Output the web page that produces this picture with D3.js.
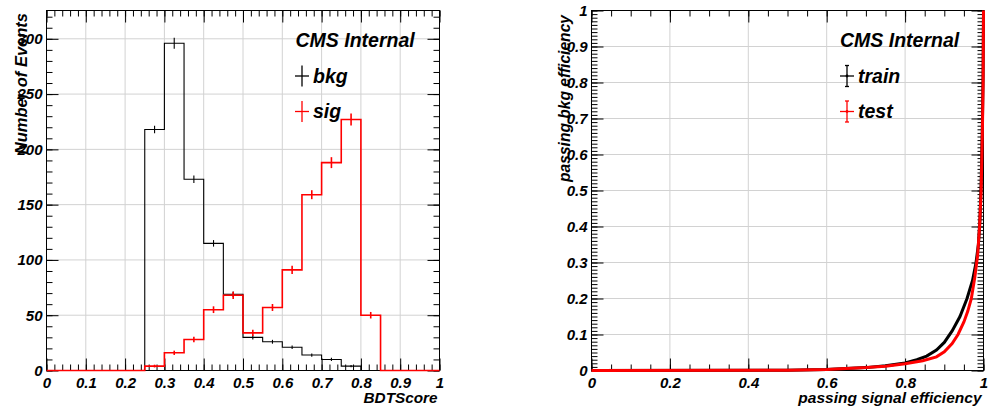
<!DOCTYPE html>
<html><head><meta charset="utf-8">
<script src="https://cdn.jsdelivr.net/npm/d3@7"></script>
<style>
body{margin:0;background:#fff}
svg text{font-family:"Liberation Sans",Arial,Helvetica,sans-serif;font-weight:bold;font-style:italic;fill:#000}
</style></head><body>
<svg id="c" width="992" height="413"></svg>
<script>
// ---------- data ----------
const binEdges = [0,0.05,0.1,0.15,0.2,0.25,0.3,0.35,0.4,0.45,0.5,0.55,0.6,0.65,0.7,0.75,0.8,0.85,0.9,0.95,1.0];
const bkgCounts = [0,0,0,0,0,218,296,173,115,69,30,26,21,14,10,4,0,0,0,0];
const bkgErrors = [0,0,0,0,0,3,4.5,3,2.5,2,1.4,1.3,1.2,1,1,0.6,0,0,0,0];
const sigCounts = [0,0,0,0,0,4,16,28,55,68,34,57,91,159,188,227,50,0,0,0];
const sigErrors = [0,0,0,0,0,0.8,1.5,2,2.6,2.8,2.4,2.7,3.3,3.6,4.5,5,2.5,0,0,0];

const rocTrainSig = [0,0.5,0.6,0.7,0.75,0.8,0.83,0.855,0.88,0.9,0.92,0.94,0.958,0.972,0.981,0.987,0.991,0.994,0.997,0.999,1];
const rocTrainBkg = [0,0.0005,0.003,0.008,0.013,0.021,0.03,0.04,0.057,0.078,0.11,0.15,0.2,0.25,0.3,0.35,0.42,0.52,0.67,0.82,1];
const rocTestSig  = [0,0.5,0.6,0.7,0.75,0.8,0.845,0.88,0.9,0.92,0.935,0.95,0.96,0.969,0.978,0.985,0.99,0.994,0.997,0.999,1];
const rocTestBkg  = [0,0.0005,0.003,0.008,0.012,0.019,0.027,0.038,0.052,0.075,0.1,0.135,0.165,0.2,0.26,0.32,0.4,0.5,0.65,0.8,1];

const histXTicks = [0,0.1,0.2,0.3,0.4,0.5,0.6,0.7,0.8,0.9,1];
const histXTickLabels = ["0","0.1","0.2","0.3","0.4","0.5","0.6","0.7","0.8","0.9","1"];
const histYTicks = [0,50,100,150,200,250,300];
const histYTickLabels = ["0","50","100","150","200","250","300"];
const rocXTicks = [0,0.2,0.4,0.6,0.8,1];
const rocXTickLabels = ["0","0.2","0.4","0.6","0.8","1"];
const rocYTicks = [0,0.1,0.2,0.3,0.4,0.5,0.6,0.7,0.8,0.9,1];
const rocYTickLabels = ["0","0.1","0.2","0.3","0.4","0.5","0.6","0.7","0.8","0.9","1"];
const histYMax = 325.6;

// ---------- drawing ----------
const svg = d3.select("#c");
const TOP = 10.5, BOT = 370.5;

function panel(o) {
  const g = svg.append("g");
  const x = d3.scaleLinear().domain(o.xDomain).range([o.x0, o.x1]);
  const y = d3.scaleLinear().domain(o.yDomain).range([BOT, TOP]);
  // grid
  g.append("g").selectAll("line").data(o.xTicks).join("line")
    .attr("x1", d => x(d)).attr("x2", d => x(d)).attr("y1", TOP).attr("y2", BOT)
    .attr("stroke", "#d2d2d2").attr("stroke-width", 1);
  g.append("g").selectAll("line").data(o.yTicks).join("line")
    .attr("y1", d => y(d)).attr("y2", d => y(d)).attr("x1", o.x0).attr("x2", o.x1)
    .attr("stroke", "#d2d2d2").attr("stroke-width", 1);

  const xMinor = x.ticks(o.xMinorN), yMinor = y.ticks(o.yMinorN);
  const fmtX = d => o.xLabels[o.xTicks.indexOf(d)];
  const fmtY = d => o.yLabels[o.yTicks.indexOf(d)];
  const style = sel => { sel.select(".domain").remove(); sel.selectAll("line").attr("stroke", "#000"); };

  g.append("g").attr("transform", `translate(0,${BOT})`)
    .call(d3.axisBottom(x).tickValues(o.xTicks).tickSize(-12).tickSizeOuter(0).tickPadding(6.5).tickFormat(fmtX))
    .call(style).selectAll("text").attr("font-size", 15).attr("font-family", null);
  g.append("g").attr("transform", `translate(0,${BOT})`)
    .call(d3.axisBottom(x).tickValues(xMinor).tickSize(-6).tickSizeOuter(0).tickFormat("")).call(style);
  g.append("g").attr("transform", `translate(0,${TOP})`)
    .call(d3.axisTop(x).tickValues(o.xTicks).tickSize(-12).tickSizeOuter(0).tickFormat("")).call(style);
  g.append("g").attr("transform", `translate(0,${TOP})`)
    .call(d3.axisTop(x).tickValues(xMinor).tickSize(-6).tickSizeOuter(0).tickFormat("")).call(style);

  g.append("g").attr("transform", `translate(${o.x0},0)`)
    .call(d3.axisLeft(y).tickValues(o.yTicks).tickSize(-12).tickSizeOuter(0).tickPadding(4).tickFormat(fmtY))
    .call(style).selectAll("text").attr("font-size", 15).attr("font-family", null);
  g.append("g").attr("transform", `translate(${o.x0},0)`)
    .call(d3.axisLeft(y).tickValues(yMinor).tickSize(-6).tickSizeOuter(0).tickFormat("")).call(style);
  g.append("g").attr("transform", `translate(${o.x1},0)`)
    .call(d3.axisRight(y).tickValues(o.yTicks).tickSize(-12).tickSizeOuter(0).tickFormat("")).call(style);
  g.append("g").attr("transform", `translate(${o.x1},0)`)
    .call(d3.axisRight(y).tickValues(yMinor).tickSize(-6).tickSizeOuter(0).tickFormat("")).call(style);

  // frame
  g.append("rect").attr("x", o.x0).attr("y", TOP).attr("width", o.x1 - o.x0).attr("height", BOT - TOP)
    .attr("fill", "none").attr("stroke", "#000").attr("stroke-width", 1);

  // titles
  g.append("text").attr("x", o.x1 - 2).attr("y", 403).attr("text-anchor", "end")
    .attr("font-size", o.xTitleSize).text(o.xTitle);
  g.append("text").attr("transform", `translate(${o.yTitleX},${o.yTitleTop}) rotate(-90)`)
    .attr("text-anchor", "end").attr("font-size", o.yTitleSize).text(o.yTitle);
  return {g, x, y};
}

// ---- left: histogram ----
const L = panel({x0: 46.5, x1: 439.5, xDomain: [0, 1], yDomain: [0, histYMax],
  xTicks: histXTicks, xLabels: histXTickLabels, yTicks: histYTicks, yLabels: histYTickLabels,
  xMinorN: 50, yMinorN: 33, xTitle: "BDTScore", xTitleSize: 15.3,
  yTitle: "Number of Events", yTitleX: 26.5, yTitleTop: 13, yTitleSize: 16.5});

function drawHist(p, counts, errs, color, w) {
  const pts = counts.map((c, i) => [binEdges[i], c]);
  pts.push([binEdges[binEdges.length - 1], counts[counts.length - 1]]);
  const line = d3.line().x(d => p.x(d[0])).y(d => p.y(d[1])).curve(d3.curveStepAfter);
  p.g.append("path").attr("d", line(pts)).attr("fill", "none").attr("stroke", color).attr("stroke-width", w);
  const eb = counts.map((c, i) => ({xc: (binEdges[i] + binEdges[i + 1]) / 2, c, e: errs[i]})).filter(d => d.c > 0);
  p.g.append("g").selectAll("line").data(eb).join("line")
    .attr("x1", d => p.x(d.xc)).attr("x2", d => p.x(d.xc))
    .attr("y1", d => p.y(d.c - d.e) + 0.5).attr("y2", d => p.y(d.c + d.e) - 0.5)
    .attr("stroke", color).attr("stroke-width", w);
}
drawHist(L, bkgCounts, bkgErrors, "#000", 1.1);
drawHist(L, sigCounts, sigErrors, "#ff0000", 1.6);

// legend left
L.g.append("text").attr("x", 295.5).attr("y", 47).attr("font-size", 19.5).text("CMS Internal");
function crossMarker(g, cx, cy, color, caps) {
  g.append("line").attr("x1", cx - 7).attr("x2", cx + 7).attr("y1", cy).attr("y2", cy).attr("stroke", color).attr("stroke-width", 1.3);
  g.append("line").attr("x1", cx).attr("x2", cx).attr("y1", cy - 10.5).attr("y2", cy + 10.5).attr("stroke", color).attr("stroke-width", 1.3);
  if (caps) {
    [cy - 10.5, cy + 10.5].forEach(yy => g.append("line").attr("x1", cx - 2).attr("x2", cx + 2).attr("y1", yy).attr("y2", yy).attr("stroke", color).attr("stroke-width", 1.3));
    g.append("circle").attr("cx", cx).attr("cy", cy).attr("r", 1.4).attr("fill", color);
  }
}
crossMarker(L.g, 302, 76, "#000", false);
L.g.append("text").attr("x", 313).attr("y", 82.5).attr("font-size", 19.5).text("bkg");
crossMarker(L.g, 302, 111.5, "#ff0000", false);
L.g.append("text").attr("x", 313).attr("y", 118).attr("font-size", 19.5).text("sig");

// ---- right: ROC ----
const R = panel({x0: 591.5, x1: 983.5, xDomain: [0, 1], yDomain: [0, 1],
  xTicks: rocXTicks, xLabels: rocXTickLabels, yTicks: rocYTicks, yLabels: rocYTickLabels,
  xMinorN: 20, yMinorN: 80, xTitle: "passing signal efficiency", xTitleSize: 15.5,
  yTitle: "passing bkg efficiency", yTitleX: 569.5, yTitleTop: 15, yTitleSize: 15.6});

const roc = d3.line().x(d => R.x(d[0])).y(d => R.y(d[1]));
R.g.append("path").attr("d", roc(rocTrainSig.map((s, i) => [s, rocTrainBkg[i]])))
  .attr("fill", "none").attr("stroke", "#000").attr("stroke-width", 3);
R.g.append("path").attr("d", roc(rocTestSig.map((s, i) => [s, rocTestBkg[i]])))
  .attr("fill", "none").attr("stroke", "#ff0000").attr("stroke-width", 3);

R.g.append("text").attr("x", 840).attr("y", 47).attr("font-size", 19.5).text("CMS Internal");
crossMarker(R.g, 847, 76, "#000", true);
R.g.append("text").attr("x", 858).attr("y", 82.5).attr("font-size", 19.5).text("train");
crossMarker(R.g, 847, 111.5, "#ff0000", true);
R.g.append("text").attr("x", 858).attr("y", 118).attr("font-size", 19.5).text("test");
</script>
</body></html>
